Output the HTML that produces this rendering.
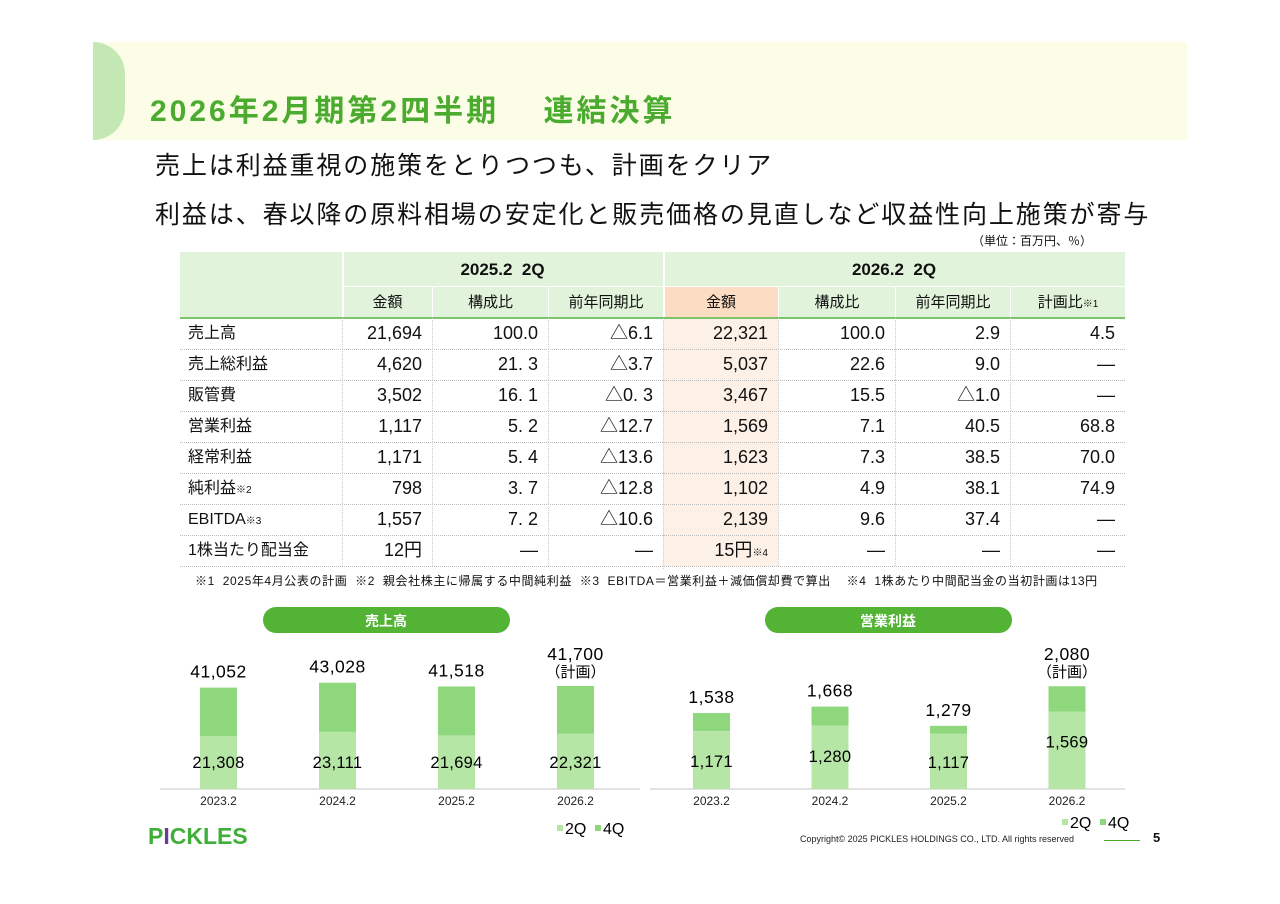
<!DOCTYPE html>
<html><head><meta charset="utf-8">
<style>
body{margin:0;width:1280px;height:904px;background:#fff;position:relative;overflow:hidden;font-family:"Liberation Sans","Noto Sans CJK JP",sans-serif;color:#111}
.abs{position:absolute}
.c{position:absolute;box-sizing:border-box;font-size:18px;line-height:31px;white-space:nowrap}
.r{text-align:right;padding-right:10px}
.ctr{text-align:center}
</style></head><body>
<div class="abs" style="left:93px;top:42px;width:1094px;height:98px;background:#fbfde6"></div>
<div class="abs" style="left:93px;top:42px;width:32px;height:98px;background:#c4e8b4;border-radius:0 49px 49px 0/0 49px 49px 0"></div>
<div class="abs" style="left:150px;top:86px;font-size:30px;letter-spacing:3px;font-weight:bold;color:#4aab2f;white-space:nowrap">2026年2月期第2四半期　 連結決算</div>
<div class="abs" style="left:155px;top:146px;font-size:25px;letter-spacing:1.9px;white-space:nowrap">売上は利益重視の施策をとりつつも、計画をクリア</div>
<div class="abs" style="left:155px;top:195px;font-size:25px;letter-spacing:1.9px;white-space:nowrap">利益は、春以降の原料相場の安定化と販売価格の見直しなど収益性向上施策が寄与</div>
<div class="abs" style="left:972px;top:232px;font-size:12px">（単位：百万円、％）</div>
<div id="tbl"></div>
<div class="abs" style="left:195px;top:572px;font-size:12px;letter-spacing:0.6px;white-space:pre">※1  2025年4月公表の計画  ※2  親会社株主に帰属する中間純利益  ※3  EBITDA＝営業利益＋減価償却費で算出    ※4  1株あたり中間配当金の当初計画は13円</div>
<svg class="abs" style="left:0;top:0" width="1280" height="904" id="charts"></svg>
<div class="abs" style="left:148px;top:823px;font-size:23px;font-weight:bold;color:#3fae3a;letter-spacing:0px">P<span style="color:#6a3d8f">I</span>CKLES</div>
<div class="abs" style="left:800px;top:834px;font-size:9px;color:#222;white-space:nowrap">Copyright© 2025 PICKLES HOLDINGS CO., LTD. All rights reserved</div>
<div class="abs" style="left:1104px;top:840px;width:36px;height:1px;background:#4aab2f"></div>
<div class="abs" style="left:1153px;top:830px;font-size:13px;font-weight:bold">5</div>
<script>
const rowLabels=['売上高','売上総利益','販管費','営業利益','経常利益','純利益<small style="font-size:10px">※2</small>','EBITDA<small style="font-size:10px">※3</small>','1株当たり配当金'];
const rows=[
['21,694','100.0','△6.1','22,321','100.0','2.9','4.5'],
['4,620','21. 3','△3.7','5,037','22.6','9.0','―'],
['3,502','16. 1','△0. 3','3,467','15.5','△1.0','―'],
['1,117','5. 2','△12.7','1,569','7.1','40.5','68.8'],
['1,171','5. 4','△13.6','1,623','7.3','38.5','70.0'],
['798','3. 7','△12.8','1,102','4.9','38.1','74.9'],
['1,557','7. 2','△10.6','2,139','9.6','37.4','―'],
['12円','―','―','15円<small style="font-size:10px">※4</small>','―','―','―']];
const colW=[162,90,116,115,115,117,115,115];
const subHeads=['金額','構成比','前年同期比','金額','構成比','前年同期比','計画比<small style="font-size:10px">※1</small>'];
const tbl=document.getElementById('tbl');
let html='';
const x0=180;let xs=[x0];colW.forEach(w=>xs.push(xs[xs.length-1]+w));
html+=`<div class="c" style="left:180px;top:252px;width:945px;height:66px;background:#e2f3dc"></div>`;
html+=`<div class="c" style="left:663px;top:287px;width:115px;height:31px;background:#fcdcc2"></div>`;
html+=`<div class="c" style="left:663px;top:318px;width:115px;height:248px;background:#fdf0e6"></div>`;
html+=`<div class="c ctr" style="left:342px;top:254px;width:321px;font-weight:bold;font-size:17px">2025.2&nbsp;&nbsp;2Q</div>`;
html+=`<div class="c ctr" style="left:663px;top:254px;width:462px;font-weight:bold;font-size:17px">2026.2&nbsp;&nbsp;2Q</div>`;
html+=`<div class="abs" style="left:342px;top:252px;width:2px;height:66px;background:#fff"></div>`;
html+=`<div class="abs" style="left:663px;top:252px;width:2px;height:66px;background:#fff"></div>`;
html+=`<div class="abs" style="left:342px;top:286px;width:783px;height:1px;background:#fff"></div>`;
for(let i=0;i<7;i++){html+=`<div class="c ctr" style="left:${xs[i+1]}px;top:287px;width:${colW[i+1]}px;font-size:15px;border-left:1px solid #fff">${subHeads[i]}</div>`;}
html+=`<div class="abs" style="left:180px;top:317px;width:945px;height:2px;background:#7cc46a"></div>`;
for(let r=0;r<rows.length;r++){const y=318+r*31;
html+=`<div class="c" style="left:188px;top:${y}px;font-size:16px">${rowLabels[r]}</div>`;
for(let i=0;i<7;i++){html+=`<div class="c r" style="left:${xs[i+1]}px;top:${y}px;width:${colW[i+1]}px;border-left:1px dotted #ccc">${rows[r][i]}</div>`;}
html+=`<div class="abs" style="left:180px;top:${y+31}px;width:945px;border-top:1px dotted #bbb"></div>`;}
tbl.innerHTML=html;
</script>
<script>
const years=['2023.2','2024.2','2025.2','2026.2'];
const salesTotal=[41052,43028,41518,41700];
const sales2Q=[21308,23111,21694,22321];
const salesTotalLbl=['41,052','43,028','41,518','41,700'];
const sales2QLbl=['21,308','23,111','21,694','22,321'];
const opTotal=[1538,1668,1279,2080];
const op2Q=[1171,1280,1117,1569];
const opTotalLbl=['1,538','1,668','1,279','2,080'];
const op2QLbl=['1,171','1,280','1,117','1,569'];
const svg=document.getElementById('charts');const NS='http://www.w3.org/2000/svg';
function el(t,a,txt){const e=document.createElementNS(NS,t);for(const k in a)e.setAttribute(k,a[k]);if(txt!=null)e.textContent=txt;svg.appendChild(e);return e;}
function chart(cfg){
 const base=789,bw=37;
 const xAt=i=>cfg.x0+i*cfg.step;const yAt=v=>base-v*cfg.scale;
 let p=el('rect',{x:cfg.px,y:607,width:247,height:26,rx:13,fill:'#52b335'});
 
 
 let t=el('text',{x:cfg.px+123,y:626,'text-anchor':'middle','font-size':14,'font-weight':'bold',fill:'#fff'},cfg.title);
 
 
 let ax=el('line',{x1:cfg.ax1,x2:cfg.ax2,y1:base,y2:base,stroke:'#d9d9d9','stroke-width':1.5});
 
 
 cfg.total.forEach((v,i)=>{const cx=xAt(i);const q=cfg.q2[i];
  let b4=el('rect',{x:cx-bw/2,y:yAt(v),width:bw,height:(v-q)*cfg.scale,fill:'#8fd77c'});
  
  
  let b2=el('rect',{x:cx-bw/2,y:yAt(q),width:bw,height:q*cfg.scale,fill:'#b5e6a5'});
  
  
  let plan=i===3;
  let tl=el('text',{x:cx,y:yAt(v)-(plan?26:10),'text-anchor':'middle','font-size':17.5,'letter-spacing':0.5},cfg.totalLbl[i]);
  
  
  if(plan){let pl=el('text',{x:cx,y:yAt(v)-9,'text-anchor':'middle','font-size':15},'（計画）');
   
   }
  let ql=el('text',{x:cx,y:Math.min(yAt(q)+36,base-21),'text-anchor':'middle','font-size':16.5,'letter-spacing':0.3},cfg.q2Lbl[i]);
  
  
  let yl=el('text',{x:cx,y:805,'text-anchor':'middle','font-size':12,fill:'#222'},years[i]);
  
  
 });
 let l1=el('rect',{x:cfg.lx,y:cfg.ly-9,width:6,height:6,fill:'#b5e6a5'});
 
 
 let lt1=el('text',{x:cfg.lx+8,y:cfg.ly,'font-size':16},'2Q');
 
 
 let l2=el('rect',{x:cfg.lx+38,y:cfg.ly-9,width:6,height:6,fill:'#8fd77c'});
 
 
 let lt2=el('text',{x:cfg.lx+46,y:cfg.ly,'font-size':16},'4Q');
 
 
}
chart({name:'sales',title:'売上高',px:263,x0:218.5,step:119,scale:0.00247,total:salesTotal,q2:sales2Q,totalLbl:salesTotalLbl,q2Lbl:sales2QLbl,ax1:160,ax2:640,lx:557,ly:834});
chart({name:'op',title:'営業利益',px:765,x0:711.5,step:118.5,scale:0.0494,total:opTotal,q2:op2Q,totalLbl:opTotalLbl,q2Lbl:op2QLbl,ax1:650,ax2:1125,lx:1062,ly:828});
</script>
</body></html>
